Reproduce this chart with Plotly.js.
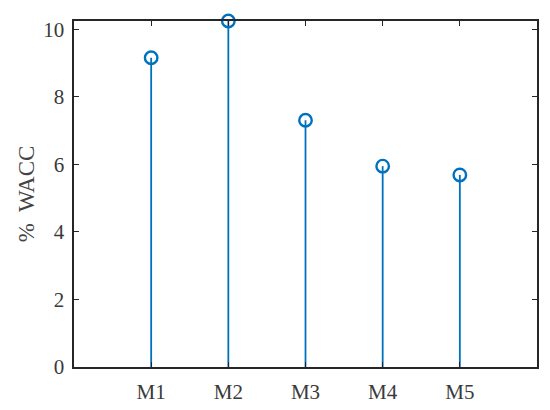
<!DOCTYPE html>
<html>
<head>
<meta charset="utf-8">
<script src="https://cdn.plot.ly/plotly-3.0.1.min.js"></script>
<style>
  html, body { margin: 0; padding: 0; background: #fff; }
  #grafico { width: 550px; height: 410px; }
</style>
</head>
<body>
<div id="grafico"></div>
<script>
let modelos = ['M1', 'M2', 'M3', 'M4', 'M5'];
let posiciones = [1, 2, 3, 4, 5];
let wacc = [9.16, 10.25, 7.31, 5.95, 5.69];
let ticksY = [0, 2, 4, 6, 8, 10];

let azul = '#0072BD';
let trazas = [];

// tallos: una linea de 0 al valor por cada modelo
for (let i = 0; i < modelos.length; i++)
{
    trazas.push({
        x: [posiciones[i], posiciones[i]],
        y: [0, wacc[i]],
        type: 'scatter',
        mode: 'lines',
        line: { color: azul, width: 1.8 },
        hoverinfo: 'skip'
    });
}

// cabezas: circulos abiertos
trazas.push({
    x: posiciones,
    y: wacc,
    text: modelos,
    type: 'scatter',
    mode: 'markers',
    marker: {
        symbol: 'circle-open',
        size: 12.5,
        color: azul,
        line: { width: 2.4, color: azul }
    },
    cliponaxis: false
});

let serif = "'Liberation Serif', 'Times New Roman', serif";
let fuente = { family: serif, size: 21, color: '#3a3a3a' };

let layout =
{
    width: 550,
    height: 410,
    margin: { l: 74, r: 13, t: 21, b: 43 },
    paper_bgcolor: '#ffffff',
    plot_bgcolor: '#ffffff',
    showlegend: false,
    font: fuente,
    xaxis: {
        range: [0, 6],
        tickvals: posiciones,
        ticktext: modelos,
        ticks: 'inside',
        ticklen: 5,
        tickwidth: 1,
        tickcolor: '#262626',
        showline: true,
        linecolor: '#262626',
        linewidth: 1.6,
        mirror: 'ticks',
        showgrid: false,
        zeroline: false,
        ticklabelstandoff: 5,
        tickfont: fuente
    },
    yaxis: {
        range: [0, 10.25],
        tickvals: ticksY,
        ticks: 'inside',
        ticklen: 5,
        tickwidth: 1,
        tickcolor: '#262626',
        showline: true,
        linecolor: '#262626',
        linewidth: 1.6,
        mirror: 'ticks',
        showgrid: false,
        zeroline: false,
        ticklabelstandoff: 4,
        tickfont: fuente,
        title: { text: '%  WACC', font: { family: serif, size: 23, color: '#444444' }, standoff: 2 }
    }
};

Plotly.newPlot(document.getElementById('grafico'), trazas, layout, { staticPlot: true });
</script>
</body>
</html>
